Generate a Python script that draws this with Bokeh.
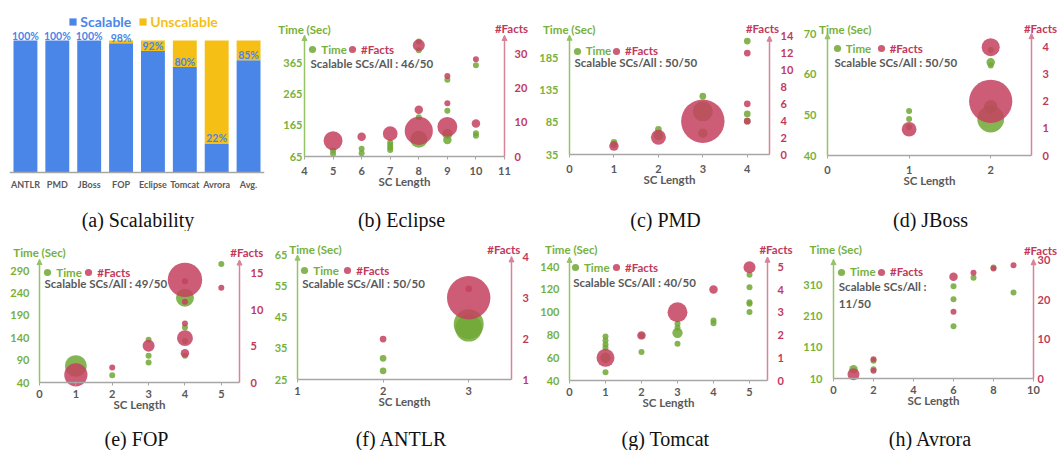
import math
from bokeh.plotting import figure
from bokeh.models import (Range1d, LinearAxis, FixedTicker, Label, LabelSet,
                          ColumnDataSource, Legend, LegendItem, FactorRange,
                          Arrow, NormalHead)
from bokeh.layouts import row, column
from bokeh.core.properties import value
from bokeh.embed import file_html
from bokeh.resources import INLINE

# ---------------- data ----------------
categories = ["ANTLR", "PMD", "JBoss", "FOP", "Eclipse", "Tomcat", "Avrora", "Avg."]
scalable_pct = [100, 100, 100, 98, 92, 80, 22, 85]
total_scs = 50

eclipse_scalable = 46
eclipse_time_len = [5, 5, 6, 6, 7, 7, 7, 7, 8, 8, 8, 8, 9, 9, 9, 9, 10, 10, 10]
eclipse_time_sec = [84, 74, 90, 75, 110, 102, 94, 86, 432, 404, 190, 120, 310, 211, 137, 118, 356, 139, 131]
eclipse_time_n = [1, 1, 1, 1, 1, 1, 1, 1, 1, 1, 1, 8, 1, 1, 3, 2, 1, 1, 1]
eclipse_facts_len = [5, 6, 7, 8, 8, 8, 9, 9, 9, 10, 10]
eclipse_facts_num = [4.6, 5.8, 6.7, 32.6, 13.7, 7.5, 23.6, 15.6, 8.7, 28.5, 9.7]
eclipse_facts_n = [10, 2, 6, 4, 2, 22, 1, 1, 11, 1, 2]

pmd_scalable = 50
pmd_time_len = [1, 1, 2, 2, 3, 3, 3, 4, 4, 4]
pmd_time_sec = [54, 50.5, 74, 64.5, 125.5, 102, 68, 211, 98, 87]
pmd_time_n = [1, 1, 1, 2, 1, 9, 2, 1, 1, 1]
pmd_facts_len = [1, 2, 3, 4, 4, 4]
pmd_facts_num = [1.0, 2.05, 3.94, 12.0, 6.0, 3.94]
pmd_facts_n = [2, 5, 42, 1, 1, 1]

jboss_scalable = 50
jboss_time_len = [1, 1, 1, 2, 2, 2, 2, 2]
jboss_time_sec = [51.0, 49.0, 47.0, 63.0, 62.2, 66.0, 52.0, 49.0]
jboss_time_n = [1, 1, 1, 2, 1, 1, 5, 20]
jboss_facts_len = [1, 2, 2]
jboss_facts_num = [0.97, 4.0, 2.0]
jboss_facts_n = [6, 9, 52]

fop_scalable = 49
fop_time_len = [1, 2, 3, 3, 3, 4, 4, 4, 4, 5]
fop_time_sec = [77, 56.4, 135.5, 99.7, 84.8, 230, 163, 133, 99.7, 305]
fop_time_n = [13, 1, 1, 1, 1, 9, 1, 1, 1, 1]
fop_facts_len = [1, 2, 3, 4, 4, 4, 4, 4, 4, 5]
fop_facts_num = [1.05, 2.06, 5.03, 14.08, 13.9, 11.07, 8.1, 6.08, 4.0, 13.0]
fop_facts_n = [15, 1, 4, 33, 1, 1, 1, 7, 2, 1]

antlr_scalable = 50
antlr_time_len = [2, 2, 3, 3]
antlr_time_sec = [31.8, 27.8, 42.8, 41.5]
antlr_time_n = [1, 1, 20, 16]
antlr_facts_len = [2, 3, 3]
antlr_facts_num = [1.99, 3.0, 3.22]
antlr_facts_n = [1, 42, 1]

tomcat_scalable = 40
tomcat_time_len = [1, 1, 1, 1, 1, 1, 2, 2, 3, 3, 3, 3, 4, 4, 5, 5, 5, 5, 5]
tomcat_time_sec = [78.6, 75.0, 71.6, 68.7, 60.0, 47.3, 79.5, 64.9, 89.7, 86.2, 81.8, 72.2,
                   92.6, 90.3, 132.7, 121.9, 108.7, 107.3, 100.0]
tomcat_time_n = [1, 1, 1, 1, 3, 1, 1, 1, 1, 1, 3, 1, 1, 1, 1, 1, 1, 1, 1]
tomcat_facts_len = [1, 2, 3, 4, 5]
tomcat_facts_num = [1.0, 1.99, 3.01, 4.01, 5.0]
tomcat_facts_n = [9, 2, 11, 2, 4]

avrora_scalable = 11
avrora_time_len = [1, 2, 2, 6, 6, 6, 7, 8, 9]
avrora_time_sec = [40, 66.8, 40, 306.8, 265, 178, 333.6, 366.8, 286.4]
avrora_time_n = [2, 1, 1, 1, 1, 1, 1, 1, 1]
avrora_facts_len = [1, 2, 2, 6, 6, 7, 8, 9]
avrora_facts_num = [1.1, 4.9, 1.94, 25.8, 16.9, 26.8, 27.9, 28.7]
avrora_facts_n = [4, 1, 1, 2, 1, 1, 1, 1]

# ---------------- style ----------------
SANS = "Lato"
SERIF = "Liberation Serif"
GRAY = "#595959"
AXGRAY = "#A6A6A6"
BLUE = "#4A86E8"
YELLOW = "#F5BF16"
GREEN_TXT = "#76B13C"
GREEN_AX = "#94C466"
GREEN_FILL = "#70A835"
RED_TXT = "#C2385A"
RED_AX = "#D7839A"
RED_FILL = "#C4415F"
ROW1_Y, ROW1_H = 0, 231
ROW2_Y, ROW2_H = 231, 219


def caption(p, text, x, y):
    p.add_layout(Label(x=x, y=y, text=text, text_align="center", text_baseline="middle",
                       text_font=SERIF, text_font_size="20px", text_color="#111111"))


# ---------------- (a) bar chart ----------------
def bar_chart():
    ox, oy, W, H = 0, ROW1_Y, 266, ROW1_H
    fl, fr, fb = 9, 264, 172
    ppu = 1.32
    src = ColumnDataSource(dict(cat=categories, scalable=scalable_pct,
                                unscalable=[100 - v for v in scalable_pct],
                                lbl=[f"{v}%" for v in scalable_pct]))
    p = figure(width=W, height=H, x_range=FactorRange(factors=categories, range_padding=0),
               y_range=Range1d((fb - (oy + H)) / ppu, (fb - oy) / ppu),
               toolbar_location=None, output_backend="svg",
               title=None, y_axis_location=None, min_border_left=fl - ox,
               min_border_right=ox + W - fr, min_border_top=0, min_border_bottom=0)
    p.grid.visible = False
    p.outline_line_color = None
    rs = p.vbar_stack(["scalable", "unscalable"], x="cat", width=0.75, source=src,
                      fill_color=[BLUE, YELLOW], line_color=None)
    p.add_layout(LabelSet(x="cat", y="scalable", text="lbl", source=src, text_align="center",
                          text_baseline="alphabetic", y_offset=1, text_font=value(SANS),
                          text_font_style="bold", text_font_size="10.5px", text_color=BLUE))
    xa = p.xaxis[0]
    xa.fixed_location = 0
    xa.axis_line_color = AXGRAY
    xa.axis_line_width = 1.5
    xa.major_tick_line_color = None
    xa.major_tick_out = 0
    xa.minor_tick_line_color = None
    xa.major_label_text_font = SANS
    xa.major_label_text_font_style = "bold"
    xa.major_label_text_font_size = "9px"
    xa.major_label_text_color = GRAY
    xa.major_label_standoff = 6
    for name, col, rend, gx, tx in [("Scalable", BLUE, rs[0], 68.3, 80),
                                    ("Unscalable", YELLOW, rs[1], 138.3, 150)]:
        p.add_layout(Legend(items=[LegendItem(label=name, renderers=[rend])],
                            location=(gx - fl, (oy + H) - 29.5), glyph_width=9, glyph_height=9,
                            label_height=17, label_standoff=int(round(tx - gx - 9)),
                            padding=0, margin=0, spacing=0, border_line_color=None,
                            background_fill_alpha=0, label_text_font=SANS,
                            label_text_font_style="bold", label_text_font_size="14px",
                            label_text_color=col))
    cx = (137.5 - fl) / (fr - fl) * len(categories)
    caption(p, "(a) Scalability", cx, (fb - 219.5) / ppu)
    return p


# ---------------- bubble charts ----------------
bubble_cfgs = [
    dict(name="(b) Eclipse", ox=266, oy=ROW1_Y, W=266, H=ROW1_H, fl=304, fr=504, fb=156,
         xr=(4, 11), xticks=[4, 5, 6, 7, 8, 9, 10, 11],
         t0=65, tppu=94 / 300, ttop=451, tticks=[65, 165, 265, 365],
         f0=0, fppu=3.41, ftop=35.5, fticks=[0, 10, 20, 30], lstand=2, rstand=10, xstand=7, unit=6,
         tl=eclipse_time_len, ts=eclipse_time_sec, tn=eclipse_time_n,
         fl_=eclipse_facts_len, fs=eclipse_facts_num, fn=eclipse_facts_n, sc=eclipse_scalable,
         ttitle=(304, 29.3), ftitle=(511, 28.3), leg=(312.3, 49.3, 319.7, 352, 358),
         scal=(310, 63), wrap=False, cap=(401, 219.5)),
    dict(name="(c) PMD", ox=532, oy=ROW1_Y, W=264, H=ROW1_H, fl=569, fr=769, fb=154,
         xr=(0, 4.5), xticks=[0, 1, 2, 3, 4],
         t0=35, tppu=96.7 / 150, ttop=220, tticks=[35, 85, 135, 185],
         f0=0, fppu=8.452, ftop=14, fticks=[0, 2, 4, 6, 8, 10, 12, 14], lstand=11, rstand=11,
         xstand=7, unit=6.7,
         tl=pmd_time_len, ts=pmd_time_sec, tn=pmd_time_n,
         fl_=pmd_facts_len, fs=pmd_facts_num, fn=pmd_facts_n, sc=pmd_scalable,
         ttitle=(568.7, 28.7), ftitle=(762, 28), leg=(576.7, 50.7, 583.3, 616, 621.7),
         scal=(574, 61.7), wrap=False, cap=(665, 219.5)),
    dict(name="(d) JBoss", ox=796, oy=ROW1_Y, W=262, H=ROW1_H, fl=827, fr=1031, fb=155,
         xr=(0, 2.5), xticks=[0, 1, 2],
         t0=40, tppu=121.7 / 30, ttop=70, tticks=[40, 50, 60, 70],
         f0=0, fppu=27.08, ftop=4.5, fticks=[0, 1, 2, 3, 4], lstand=11, rstand=11, xstand=7, unit=6,
         tl=jboss_time_len, ts=jboss_time_sec, tn=jboss_time_n,
         fl_=jboss_facts_len, fs=jboss_facts_num, fn=jboss_facts_n, sc=jboss_scalable,
         ttitle=(844.8, 28.7), ftitle=(1040, 28.3), leg=(836.7, 48.3, 843.3, 880.7, 886.7),
         scal=(834, 61.7), wrap=False, cap=(930, 219.5)),
    dict(name="(e) FOP", ox=0, oy=ROW2_Y, W=266, H=ROW2_H, fl=39, fr=239, fb=382,
         xr=(0, 5.5), xticks=[0, 1, 2, 3, 4, 5],
         t0=40, tppu=0.4467, ttop=315, tticks=[40, 90, 140, 190, 240, 290],
         f0=0, fppu=7.289, ftop=16.8, fticks=[0, 5, 10, 15], lstand=10, rstand=11, xstand=4, unit=6,
         tl=fop_time_len, ts=fop_time_sec, tn=fop_time_n,
         fl_=fop_facts_len, fs=fop_facts_num, fn=fop_facts_n, sc=fop_scalable,
         ttitle=(39, 251.7), ftitle=(246.3, 251.7), leg=(47.3, 272.3, 53.3, 88.3, 94.3),
         scal=(44, 283.3), wrap=False, cap=(136, 438.5)),
    dict(name="(f) ANTLR", ox=266, oy=ROW2_Y, W=266, H=ROW2_H, fl=297, fr=511, fb=379,
         xr=(1, 3.5), xticks=[1, 2, 3],
         t0=25, tppu=3.108, ttop=65, tticks=[25, 35, 45, 55, 65],
         f0=1, fppu=40.87, ftop=4, fticks=[1, 2, 3, 4], lstand=10, rstand=11, xstand=4, unit=6.7,
         tl=antlr_time_len, ts=antlr_time_sec, tn=antlr_time_n,
         fl_=antlr_facts_len, fs=antlr_facts_num, fn=antlr_facts_n, sc=antlr_scalable,
         ttitle=(315, 249.3), ftitle=(503.3, 249.3), leg=(304.3, 270, 310.7, 347.3, 353.3),
         scal=(301.7, 283.3), wrap=False, cap=(401, 438.5)),
    dict(name="(g) Tomcat", ox=532, oy=ROW2_Y, W=264, H=ROW2_H, fl=569, fr=767, fb=380,
         xr=(0, 5.5), xticks=[0, 1, 2, 3, 4, 5],
         t0=40, tppu=1.14, ttop=148, tticks=[40, 60, 80, 100, 120, 140],
         f0=0, fppu=22.67, ftop=5.44, fticks=[0, 1, 2, 3, 4, 5], lstand=10, rstand=10, xstand=4,
         unit=6,
         tl=tomcat_time_len, ts=tomcat_time_sec, tn=tomcat_time_n,
         fl_=tomcat_facts_len, fs=tomcat_facts_num, fn=tomcat_facts_n, sc=tomcat_scalable,
         ttitle=(570.8, 249.3), ftitle=(775.5, 249.3), leg=(575, 267.3, 580.7, 616, 621.7),
         scal=(572.7, 282.3), wrap=False, cap=(665, 438.5)),
    dict(name="(h) Avrora", ox=796, oy=ROW2_Y, W=262, H=ROW2_H, fl=833, fr=1033, fb=378,
         xr=(0, 10), xticks=[0, 2, 4, 6, 8, 10],
         t0=10, tppu=0.3111, ttop=392, tticks=[10, 110, 210, 310],
         f0=0, fppu=3.944, ftop=30.1, fticks=[0, 10, 20, 30], lstand=11, rstand=4, xstand=4, unit=6,
         tl=avrora_time_len, ts=avrora_time_sec, tn=avrora_time_n,
         fl_=avrora_facts_len, fs=avrora_facts_num, fn=avrora_facts_n, sc=avrora_scalable,
         ttitle=(835.3, 249.3), ftitle=(1040, 250), leg=(841, 271.7, 847.3, 881, 886.7),
         scal=(838.3, 285.7), wrap=True, cap=(930, 438.5)),
]


def style_tick_labels(ax, color):
    ax.major_label_text_font = SANS
    ax.major_label_text_font_style = "bold"
    ax.major_label_text_font_size = "11px"
    ax.major_label_text_color = color


def bubble_chart(c):
    ox, oy, W, H = c["ox"], c["oy"], c["W"], c["H"]
    fl, fr, fb = c["fl"], c["fr"], c["fb"]
    x0, x1 = c["xr"]
    t0, tppu, ttop = c["t0"], c["tppu"], c["ttop"]
    f0, fppu, ftop = c["f0"], c["fppu"], c["ftop"]
    ppx = (fr - fl) / (x1 - x0)
    xs, xe = x0 - (fl - ox) / ppx, x1 + (ox + W - fr) / ppx
    ys, ye = t0 - (oy + H - fb) / tppu, t0 + (fb - oy) / tppu
    gs, ge = f0 - (oy + H - fb) / fppu, f0 + (fb - oy) / fppu
    p = figure(width=W, height=H, x_range=Range1d(xs, xe), y_range=Range1d(ys, ye),
               toolbar_location=None, output_backend="svg", title=None,
               min_border_left=0, min_border_right=0, min_border_top=0, min_border_bottom=0)
    p.extra_y_ranges = {"facts": Range1d(gs, ge)}
    p.grid.visible = False
    p.outline_line_color = None

    def dx(px):
        return xs + (px - ox) / ppx

    def dy(py):
        return ye - (py - oy) / tppu

    # bubbles
    unit = c["unit"]
    st = ColumnDataSource(dict(x=c["tl"], y=c["ts"], s=[unit * math.sqrt(n) for n in c["tn"]]))
    sf = ColumnDataSource(dict(x=c["fl_"], y=c["fs"], s=[unit * math.sqrt(n) for n in c["fn"]]))
    r_t = p.scatter("x", "y", size="s", source=st, fill_color=GREEN_FILL, fill_alpha=0.85,
                    line_color=None)
    r_f = p.scatter("x", "y", size="s", source=sf, fill_color=RED_FILL, fill_alpha=0.85,
                    line_color=None, y_range_name="facts")

    # x axis
    xa = p.xaxis[0]
    xa.fixed_location = t0
    xa.bounds = (x0, x1)
    xa.ticker = FixedTicker(ticks=c["xticks"])
    xa.axis_line_color = AXGRAY
    xa.axis_line_width = 1.5
    xa.major_tick_line_color = AXGRAY
    xa.major_tick_out = 3
    xa.major_tick_in = 0
    xa.minor_tick_line_color = None
    style_tick_labels(xa, GRAY)
    xa.major_label_standoff = c["xstand"]
    xa.axis_label = "SC Length"
    xa.axis_label_text_font = SANS
    xa.axis_label_text_font_style = "bold"
    xa.axis_label_text_font_size = "11.5px"
    xa.axis_label_text_color = GRAY
    xa.axis_label_standoff = -3

    # left axis (time)
    ya = p.yaxis[0]
    ya.fixed_location = x0
    ya.ticker = FixedTicker(ticks=c["tticks"])
    ya.bounds = (t0, ttop)
    ya.axis_line_color = GREEN_AX
    ya.axis_line_width = 1.5
    ya.major_tick_line_color = None
    ya.minor_tick_line_color = None
    ya.major_tick_out = 0
    style_tick_labels(ya, GREEN_TXT)
    ya.major_label_standoff = c["lstand"]

    # right axis (facts)
    ra = LinearAxis(y_range_name="facts", ticker=FixedTicker(ticks=c["fticks"]),
                    bounds=(f0, ftop), fixed_location=x1)
    ra.axis_line_color = RED_AX
    ra.axis_line_width = 1.5
    ra.major_tick_line_color = None
    ra.minor_tick_line_color = None
    ra.major_tick_out = 0
    style_tick_labels(ra, RED_TXT)
    ra.major_label_standoff = c["rstand"]
    p.add_layout(ra, "right")

    # arrow heads at top of value axes
    p.add_layout(Arrow(end=NormalHead(size=5, fill_color=GREEN_AX, line_color=GREEN_AX),
                       x_start=x0, x_end=x0, y_start=ttop - 0.002 * (ttop - t0), y_end=ttop,
                       line_color=GREEN_AX, line_width=1.5))
    p.add_layout(Arrow(end=NormalHead(size=5, fill_color=RED_AX, line_color=RED_AX),
                       x_start=x1, x_end=x1, y_start=ftop - 0.002 * (ftop - f0), y_end=ftop,
                       line_color=RED_AX, line_width=1.5, y_range_name="facts"))

    # axis titles
    tx, ty = c["ttitle"]
    p.add_layout(Label(x=dx(tx), y=dy(ty), text="Time (Sec)", text_align="center",
                       text_baseline="middle", text_font=SANS, text_font_style="bold",
                       text_font_size="11.5px", text_color=GREEN_TXT))
    fx, fy = c["ftitle"]
    p.add_layout(Label(x=dx(fx), y=dy(fy), text="#Facts", text_align="center",
                       text_baseline="middle", text_font=SANS, text_font_style="bold",
                       text_font_size="11.5px", text_color=RED_TXT))

    # legend
    gx, gy, gtx, rx, rtx = c["leg"]
    vy = (oy + H) - (gy + 9)
    for dotx, textx, rend, lab, col in [(gx, gtx, r_t, "Time", GREEN_TXT),
                                        (rx, rtx, r_f, "#Facts", RED_TXT)]:
        p.add_layout(Legend(items=[LegendItem(label=lab, renderers=[rend])],
                            location=(dotx - 9 - ox, vy), glyph_width=18, glyph_height=18,
                            label_height=18, label_standoff=int(round(textx - dotx - 9)),
                            padding=0, margin=0, spacing=0, border_line_color=None,
                            background_fill_alpha=0, label_text_font=SANS,
                            label_text_font_style="bold", label_text_font_size="11.5px",
                            label_text_color=col))

    # scalable counts
    sx, sy = c["scal"]
    if c["wrap"]:
        lines = [("Scalable SCs/All :", sy), (f"{c['sc']}/{total_scs}", sy + 17)]
    else:
        lines = [(f"Scalable SCs/All : {c['sc']}/{total_scs}", sy)]
    for txt, yy in lines:
        p.add_layout(Label(x=dx(sx), y=dy(yy), text=txt, text_align="left",
                           text_baseline="middle", text_font=SANS, text_font_style="bold",
                           text_font_size="11.5px", text_color=GRAY))

    cx, cy = c["cap"]
    caption(p, c["name"], dx(cx), dy(cy))
    return p


figs = [bar_chart()] + [bubble_chart(c) for c in bubble_cfgs]
layout = column(row(*figs[:4]), row(*figs[4:]))
open("out.html", "w").write(file_html(layout, INLINE))
